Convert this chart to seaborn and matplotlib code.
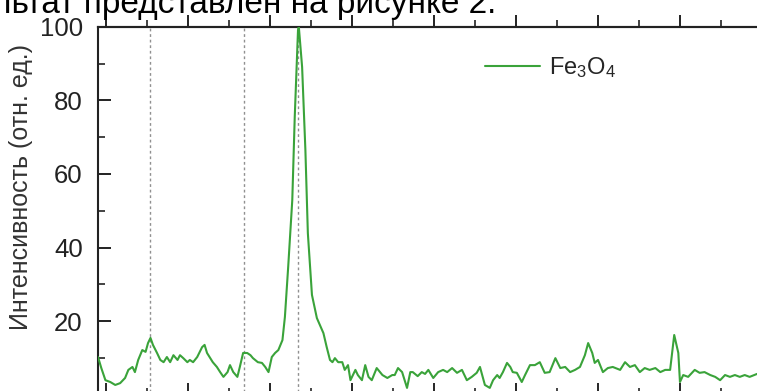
import pandas as pd
import numpy as np
import matplotlib
matplotlib.use("Agg")
import matplotlib.pyplot as plt
import seaborn as sns

# spectrum (x in arbitrary 2theta-like units, intensity in a.u.)
x_vals = [9.0, 9.4, 9.9, 10.5, 11.1, 11.7, 12.3, 12.7, 13.2, 13.5, 13.9, 14.4, 14.8, 15.1,
          15.4, 15.7, 16.2, 16.6, 17.0, 17.4, 17.8, 18.2, 18.7, 19.0, 19.4, 19.9, 20.2, 20.6,
          21.1, 21.7, 22.0, 22.3, 22.7, 23.0, 23.5, 23.9, 24.3, 24.8, 25.1, 25.5, 26.0, 26.3,
          26.7, 27.2, 27.6, 27.9, 28.5, 29.0, 29.4, 29.8, 30.2, 30.6, 31.0, 31.5, 31.8, 32.2,
          32.7, 33.0, 33.4, 33.5, 33.9, 34.3, 34.6, 35.1, 35.7, 36.5, 36.9, 37.3, 37.6, 37.9,
          38.3, 38.8, 39.1, 39.5, 39.8, 40.4, 40.7, 41.2, 41.6, 42.0, 42.4, 43.0, 43.7, 44.3,
          44.9, 45.2, 45.6, 46.1, 46.7, 47.1, 47.4, 48.0, 48.5, 48.9, 49.3, 49.9, 50.5, 51.1,
          51.6, 52.2, 52.8, 53.4, 54.0, 54.6, 55.2, 55.6, 56.2, 56.8, 57.2, 57.7, 58.0, 58.4,
          58.9, 59.3, 59.6, 60.1, 60.7, 61.1, 61.7, 62.3, 62.9, 63.5, 64.1, 64.8, 65.4, 66.0,
          66.6, 67.2, 67.8, 68.4, 68.8, 69.3, 69.6, 70.0, 70.6, 71.2, 71.8, 72.7, 73.3, 73.9,
          74.5, 75.1, 75.7, 76.3, 77.0, 77.6, 78.2, 78.8, 79.3, 79.8, 80.0, 80.4, 81.0, 81.8,
          82.4, 83.0, 83.7, 84.3, 84.9, 85.5, 86.1, 86.7, 87.3, 87.9, 88.5, 89.4]
intensity = [10.2, 7.2, 3.9, 3.4, 2.6, 3.1, 4.5, 6.7, 7.5, 6.1, 9.4, 12.1, 11.6, 14.0,
             15.4, 13.5, 11.3, 9.4, 8.8, 10.2, 8.8, 10.7, 9.4, 10.7, 9.9, 8.8, 9.4, 8.8,
             10.2, 12.9, 13.5, 11.3, 9.9, 8.8, 7.5, 6.1, 4.8, 6.1, 8.0, 6.1, 4.8, 7.5,
             11.3, 11.3, 10.7, 9.9, 8.8, 8.6, 7.5, 6.1, 10.2, 11.3, 12.1, 14.8, 21.1, 34.7,
             52.9, 75.5, 99.2, 100.0, 89.1, 66.5, 43.9, 27.1, 20.8, 16.7, 12.9, 9.4, 8.8, 9.9,
             8.8, 8.8, 6.7, 8.0, 3.9, 6.7, 5.3, 3.9, 8.0, 4.8, 3.9, 7.2, 5.3, 4.5,
             5.3, 5.3, 7.2, 6.1, 1.8, 6.1, 6.1, 5.0, 6.1, 5.6, 6.7, 4.5, 6.1, 6.7,
             6.1, 7.2, 5.9, 6.7, 3.9, 4.8, 5.9, 7.5, 2.6, 1.8, 3.9, 5.3, 4.5, 6.1,
             8.6, 7.5, 6.1, 5.9, 3.4, 5.3, 8.0, 8.0, 8.8, 5.9, 6.1, 9.9, 7.2, 7.5,
             6.1, 6.7, 7.5, 10.7, 14.0, 11.3, 8.6, 9.4, 6.1, 7.2, 7.5, 6.7, 8.8, 7.5,
             8.0, 6.1, 7.2, 6.7, 7.2, 6.1, 6.7, 6.7, 16.2, 11.3, 3.4, 5.3, 4.8, 6.7,
             5.9, 6.1, 5.3, 4.8, 3.9, 5.3, 4.8, 5.3, 4.8, 5.3, 4.8, 5.6]
ref_lines = [15.4, 26.8, 33.4]
series_label = "Fe$_3$O$_4$"
y_label = "Интенсивность (отн. ед.)"
caption = "льтат представлен на рисунке 2."

df = pd.DataFrame({"x": x_vals, "y": intensity, "sample": series_label})

sns.set_style("ticks")
plt.rcParams["font.family"] = ["Liberation Sans", "DejaVu Sans"]
plt.rcParams["mathtext.fontset"] = "custom"
plt.rcParams["mathtext.rm"] = "Liberation Sans"
plt.rcParams["mathtext.it"] = "Liberation Sans:italic"

fig = plt.figure(figsize=(7.57, 3.91), dpi=100)
ax = fig.add_axes([0.1295, -0.009, 0.877, 0.94])

for xv in ref_lines:
    ax.axvline(xv, color="#909090", linestyle=(0, (2, 2)), linewidth=1.0, zorder=1)

sns.lineplot(data=df, x="x", y="y", hue="sample", palette=["#3aa33a"],
             sort=False, linewidth=1.5, ax=ax, zorder=3)

ax.set_xlim(9.0, 90.0)
ax.set_ylim(0, 100)
ax.set_xlabel("")
ax.set_ylabel(y_label, fontsize=18, color="#333333")
ax.yaxis.set_label_coords(-0.098, 0.565)

ax.set_xticks(np.arange(10, 91, 10))
ax.set_xticks(np.arange(15, 90, 10), minor=True)
ax.set_yticks([20, 40, 60, 80, 100])
ax.set_yticks([10, 30, 50, 70, 90], minor=True)

ax.tick_params(axis="y", which="both", direction="in", left=True, right=False,
               labelsize=18.5, pad=11, colors="#222222")
ax.tick_params(axis="y", which="major", length=9, width=1.4)
ax.tick_params(axis="y", which="minor", length=5, width=1.2)
ax.tick_params(axis="x", which="both", direction="in", bottom=True, top=False,
               labelbottom=False)
ax.tick_params(axis="x", which="major", length=9, width=1.4)
ax.tick_params(axis="x", which="minor", length=5, width=1.2)

# mirrored ticks on top, pointing outward
top = ax.secondary_xaxis("top")
top.set_xticks(np.arange(10, 91, 10))
top.set_xticks(np.arange(15, 90, 10), minor=True)
top.tick_params(which="both", direction="out", labeltop=False, colors="#222222")
top.tick_params(which="major", length=9, width=1.4)
top.tick_params(which="minor", length=5, width=1.2)
top.spines["top"].set_linewidth(1.5)
top.spines["top"].set_color("#222222")

for side in ["left", "bottom", "top"]:
    ax.spines[side].set_linewidth(1.5)
    ax.spines[side].set_color("#222222")
ax.spines["right"].set_visible(False)

ax.legend(loc="center left", bbox_to_anchor=(0.6407, 0.826), bbox_transform=fig.transFigure,
          frameon=False, fontsize=17, handlelength=2.35, handletextpad=0.35,
          borderpad=0, borderaxespad=0)

fig.text(-0.010, 0.966, caption, fontsize=24, va="baseline", ha="left", color="black")

fig.savefig("out.png", dpi=100)
